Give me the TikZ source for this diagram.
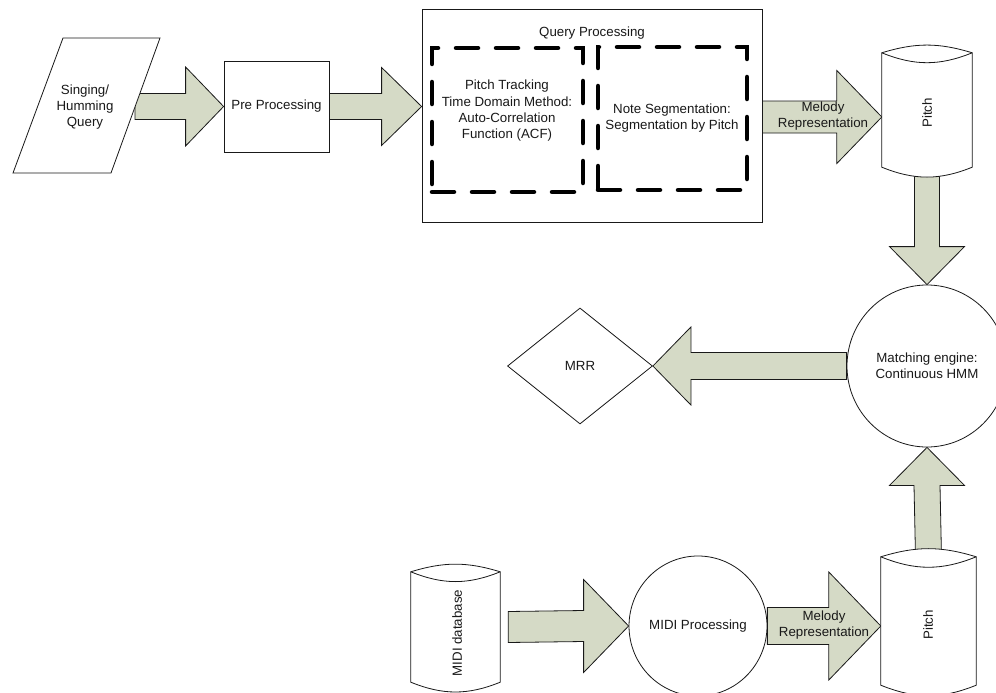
\documentclass[tikz,border=0pt]{standalone}
\usepackage{fontspec}
\setmainfont{Liberation Sans}
\usetikzlibrary{shapes.geometric,calc}
\definecolor{arrfill}{RGB}{213,218,198}
\definecolor{ink}{RGB}{25,25,25}
\pgfdeclarelayer{bg}
\pgfsetlayers{bg,main}
% block arrows: #1 start, #2 tip, #3 shaft half width, #4 head half width, #5 head length
\newcommand\rarr[5]{\filldraw[blockarrow] ([yshift=#3]#1) -- ([xshift=-#5,yshift=#3]#2) -- ([xshift=-#5,yshift=#4]#2) -- (#2) -- ([xshift=-#5,yshift=-#4]#2) -- ([xshift=-#5,yshift=-#3]#2) -- ([yshift=-#3]#1) -- cycle;}
\newcommand\larr[5]{\filldraw[blockarrow] ([yshift=#3]#1) -- ([xshift=#5,yshift=#3]#2) -- ([xshift=#5,yshift=#4]#2) -- (#2) -- ([xshift=#5,yshift=-#4]#2) -- ([xshift=#5,yshift=-#3]#2) -- ([yshift=-#3]#1) -- cycle;}
\newcommand\darr[5]{\filldraw[blockarrow] ([xshift=#3]#1) -- ([xshift=#3,yshift=#5]#2) -- ([xshift=#4,yshift=#5]#2) -- (#2) -- ([xshift=-#4,yshift=#5]#2) -- ([xshift=-#3,yshift=#5]#2) -- ([xshift=-#3]#1) -- cycle;}
\newcommand\uarr[5]{\filldraw[blockarrow] ([xshift=#3]#1) -- ([xshift=#3,yshift=-#5]#2) -- ([xshift=#4,yshift=-#5]#2) -- (#2) -- ([xshift=-#4,yshift=-#5]#2) -- ([xshift=-#3,yshift=-#5]#2) -- ([xshift=-#3]#1) -- cycle;}
\newcommand\drawcyl[1]{%
  \filldraw[shapeline, fill=white] (#1.north west) to[bend left=17] (#1.north east) -- (#1.south east) to[bend left=22] (#1.south west) -- cycle;
  \draw[shapeline] (#1.north west) to[bend right=22] (#1.north east);}
\begin{document}
\begin{tikzpicture}[x=1pt,y=-1pt, font=\fontsize{13.3}{16.3}\selectfont,
  shapeline/.style={draw=ink, line width=0.8pt},
  blockarrow/.style={draw=ink, line width=0.8pt, fill=arrfill, line join=miter},
  box/.style={shapeline, fill=white, rectangle, inner sep=0pt},
  dashbox/.style={draw=black, line width=4.5pt, dash pattern=on 22pt off 18pt, line cap=round, rectangle, inner sep=0pt},
  cylbox/.style={rectangle, inner sep=0pt},
  txt/.style={align=center, inner sep=0pt, text=ink}]
\useasboundingbox (0,0) rectangle (996,693);

% input parallelogram
\coordinate (sbl) at (13,173);
\coordinate (sbr) at (111,173);
\coordinate (str) at (160,38);
\coordinate (stl) at (63,38);
\filldraw[shapeline, fill=white] (sbl) -- (sbr) -- (str) -- (stl) -- cycle;
\node[txt] (sing) at (85,107) {Singing/\\Humming\\Query};
\coordinate (singr) at ($(sbr)!0.49!(str)$);

% shapes
\node[box, minimum width=105pt, minimum height=91pt, text=ink] (pre) at (276.5,106.5) {Pre Processing};
\node[box, minimum width=340pt, minimum height=213pt] (qp) at (592,115.5) {};
\node[txt] (qpl) at (592,33) {Query Processing};
\node[dashbox, minimum width=151pt, minimum height=144pt] (d1) at (507.5,120) {};
\node[dashbox, minimum width=149pt, minimum height=143pt] (d2) at (672.5,118.5) {};
\node[txt] (pt) at (507,111) {Pitch Tracking\\Time Domain Method:\\Auto-Correlation\\Function (ACF)};
\node[txt] (ns) at (672,118) {Note Segmentation:\\Segmentation by Pitch};

\node[cylbox, minimum width=90pt, minimum height=114pt] (p1) at (927,110) {};
\node[ellipse, shapeline, fill=white, minimum width=160pt, minimum height=162pt, inner sep=0pt, align=center, text=ink]
  (match) at (927,366) {Matching engine:\\Continuous HMM};
\node[diamond, shapeline, fill=white, minimum width=145pt, minimum height=116pt, inner sep=0pt, text=ink]
  (mrr) at (580,366) {MRR};
\node[cylbox, minimum width=89pt, minimum height=110pt] (mdb) at (455.5,627) {};
\node[ellipse, shapeline, fill=white, minimum width=133pt, minimum height=140pt, inner sep=0pt, text=ink]
  (midi) at (698,626) {MIDI Processing};
\node[cylbox, minimum width=95pt, minimum height=128pt] (p2) at (928.5,621) {};

% cylinders
\drawcyl{p1}
\drawcyl{mdb}
\drawcyl{p2}
\node[txt, rotate=90] (p1t) at (927,113) {Pitch};
\node[txt, rotate=90] (mdbt) at (457,633) {MIDI database};
\node[txt, rotate=90] (p2t) at (928,625) {Pitch};

% block arrows (behind the shapes)
\coordinate (a1s) at (singr |- pre.west);
\coordinate (a2t) at (qp.west |- pre.east);
\coordinate (a3t) at ([yshift=-7pt]p1.west);
\coordinate (a3s) at (qp.east |- a3t);
\coordinate (a6s) at ([xshift=8pt]mdb.east);
\coordinate (a7t) at (p2.west |- midi.east);
\begin{pgfonlayer}{bg}
\fill[white] (0,0) rectangle (996,693);
\rarr{a1s}{pre.west}{13pt}{39.5pt}{38pt}
\rarr{pre.east}{a2t}{13pt}{39pt}{40pt}
\rarr{a3s}{a3t}{16pt}{46.5pt}{45pt}
\darr{p1.south}{match.north}{12.5pt}{37.5pt}{38pt}
\larr{match.west}{mrr.east}{13.5pt}{39pt}{38pt}
\rarr{a6s}{midi.west}{15.5pt}{46.5pt}{45pt}
\rarr{midi.east}{a7t}{18.5pt}{54pt}{52pt}
\uarr{p2.north}{match.south}{13pt}{37.5pt}{38pt}
\end{pgfonlayer}

% arrow labels
\node[txt] (mr1) at (823,116) {Melody\\Representation};
\node[txt] (mr2) at (824,625) {Melody\\Representation};
\end{tikzpicture}
\end{document}
